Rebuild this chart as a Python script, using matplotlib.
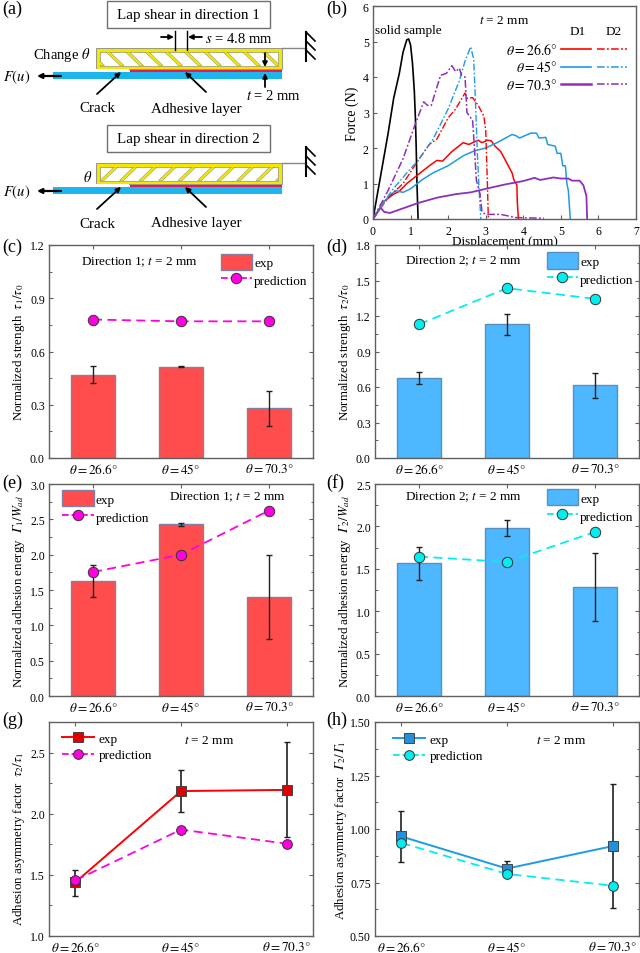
# 接着強度の実験結果と予測の比較図

import matplotlib
matplotlib.use("Agg")
import matplotlib.pyplot as plt
from matplotlib.lines import Line2D
from matplotlib.patches import Patch, Polygon, Rectangle

FIG_W = 640
FIG_H = 954
FILE_NAME = "out.png"

RED = "#FF4D4D"
RED_LINE = "#FF0000"
BLUE = "#4DB8FF"
BLUE_LINE = "#1E9BE8"
PURPLE = "#8E2FBF"
MAGENTA = "#FF00E0"
CYAN = "#00EEF0"
YELLOW = "#F4E800"
SPINE = "#606060"
GAMMA = "\U0001D6E4"

THETA_LABELS = [r"$\theta = 26.6°$", r"$\theta = 45°$", r"$\theta = 70.3°$"]

# (b) 荷重-変位曲線
solid_x = [0, .2, .4, .55, .7, .8, .9, .95, 1.0, 1.05, 1.1, 1.13, 1.15, 1.17, 1.2]
solid_y = [0, 1.2, 2.4, 3.4, 4.1, 4.7, 5.05, 5.07, 4.9, 4.4, 3.6, 2.8, 2.0, 1.0, 0]
red_d1_x = [0, .3, .55, .7, .9, 1.2, 1.5, 1.7, 1.85, 2.1, 2.4, 2.55, 2.8, 2.9, 3.05, 3.15, 3.25, 3.4, 3.5, 3.6, 3.7, 3.75, 3.83, 3.84, 3.87]
red_d1_y = [0, .5, .7, .78, 1.0, 1.25, 1.5, 1.65, 1.63, 1.9, 2.15, 2.1, 2.22, 2.15, 2.22, 2.2, 2.05, 1.9, 1.7, 1.5, 1.3, 1.1, .95, .5, 0]
blue_d1_x = [0, .3, .6, .8, 1.0, 1.3, 1.6, 2.0, 2.4, 2.7, 3.0, 3.3, 3.7, 3.8, 3.9, 4.2, 4.35, 4.42, 4.6, 4.65, 4.85, 4.9, 5.0, 5.05, 5.12, 5.16, 5.2, 5.25]
blue_d1_y = [0, .5, .8, .75, .85, 1.1, 1.3, 1.5, 1.78, 1.92, 2.0, 2.15, 2.38, 2.35, 2.28, 2.42, 2.42, 2.28, 2.3, 2.1, 2.05, 1.85, 1.85, 1.5, 1.5, 1.0, .8, 0]
purple_d1_x = [0, .2, .3, .45, .8, 1.2, 1.7, 2.2, 2.6, 3, 3.5, 4, 4.3, 4.45, 4.8, 5, 5.2, 5.3, 5.5, 5.6, 5.68, 5.7]
purple_d1_y = [0, .32, .2, .17, .3, .45, .6, .7, .75, .85, .97, 1.07, 1.16, 1.1, 1.17, 1.14, 1.14, 1.08, 1.08, .95, .65, 0]
red_d2_x = [0, .4, .8, 1.2, 1.5, 1.7, 2, 2.2, 2.45, 2.5, 2.65, 2.8, 2.95, 3.0, 3.03, 3.05, 3.07]
red_d2_y = [0, .6, 1.0, 1.65, 2.1, 2.25, 2.85, 3.1, 3.55, 3.4, 3.42, 3.2, 2.9, 2.5, 1.5, .8, 0]
blue_d2_x = [0, .5, .9, 1.2, 1.6, 2, 2.3, 2.45, 2.6, 2.68, 2.72, 2.78, 2.82, 2.87]
blue_d2_y = [0, .8, 1.3, 1.65, 2.25, 3.1, 3.9, 4.45, 4.85, 4.5, 3.5, 1.8, .9, 0]
purple_d2_x = [0, .4, .8, 1.1, 1.35, 1.45, 1.55, 1.8, 1.95, 2.1, 2.2, 2.3, 2.35, 2.45, 2.47, 2.5, 2.6, 2.65, 2.7, 2.75, 2.85, 2.9, 3.0, 3.4, 3.8, 4.55]
purple_d2_y = [0, .8, 1.7, 2.6, 3.3, 3.2, 3.2, 4.05, 4.1, 4.32, 4.15, 4.25, 4.05, 4.0, 3.6, 3.0, 2.85, 2.8, 2.0, 1.1, .7, .2, .13, .13, .04, .02]

# (c) 方向1の強度
c_exp = [0.47, 0.515, 0.28]
c_low = [0.42, 0.51, 0.18]
c_high = [0.52, 0.52, 0.38]
c_pred = [0.78, 0.77, 0.77]
# (d) 方向2の強度
d_exp = [0.675, 1.13, 0.615]
d_low = [0.625, 1.04, 0.505]
d_high = [0.725, 1.22, 0.72]
d_pred = [1.13, 1.435, 1.345]
# (e) 方向1の接着エネルギー
e_exp = [1.625, 2.43, 1.40]
e_low = [1.40, 2.41, 0.80]
e_high = [1.85, 2.45, 2.0]
e_pred = [1.755, 2.0, 2.625]
# (f) 方向2の接着エネルギー
f_exp = [1.565, 1.98, 1.285]
f_low = [1.37, 1.89, 0.885]
f_high = [1.76, 2.07, 1.69]
f_pred = [1.645, 1.58, 1.935]
# (g) 強度の非対称係数
g_exp = [1.44, 2.185, 2.195]
g_low = [1.33, 2.01, 1.81]
g_high = [1.54, 2.36, 2.59]
g_pred = [1.455, 1.87, 1.755]
# (h) エネルギーの非対称係数
h_exp = [0.965, 0.815, 0.92]
h_low = [0.845, 0.78, 0.63]
h_high = [1.085, 0.85, 1.21]
h_pred = [0.935, 0.79, 0.735]


def make_axes(fig, left, top, right, bottom):
    """
    ピクセル座標で軸を作成する
    """
    return fig.add_axes([left / FIG_W, 1 - bottom / FIG_H, (right - left) / FIG_W, (bottom - top) / FIG_H])


def style_axes(axis, ylim, yticks, yminor):
    """
    枠線と目盛りの共通設定
    """
    axis.set_ylim(ylim)
    axis.set_yticks(yticks)
    axis.set_yticks(yminor, minor=True)
    axis.tick_params(which="major", length=3, width=0.8, color=SPINE, labelsize=8.5, direction="in")
    axis.tick_params(axis="y", which="major", pad=3, left=True, right=True)
    axis.tick_params(axis="y", which="minor", length=1.8, width=0.7, color=SPINE, direction="in", left=True, right=True)
    for spine in axis.spines.values():
        spine.set_color(SPINE)
        spine.set_linewidth(1.0)


def category_ticks(axis):
    """
    角度のカテゴリ軸
    """
    axis.set_xticks(range(3))
    axis.set_xticklabels(THETA_LABELS, fontsize=9.5)
    axis.tick_params(axis="x", top=True, bottom=False, pad=3)


def set_ylabel(axis, text, x=-0.085, y=0.5):
    """
    y軸ラベルを揃えて配置する
    """
    axis.set_ylabel(text, fontsize=9.3)
    axis.yaxis.set_label_coords(x, y)


def bar_panel(axis, exp, low, high, pred, color, edge, line_color, ylim, yticks, yminor, ylabel, note, note_xy, leg_xy):
    """
    棒グラフ+予測線のパネル
    """
    axis.bar(range(3), exp, width=0.5, color=color, edgecolor=edge, linewidth=1.0, zorder=2)
    err = [[e - l for e, l in zip(exp, low)], [h - e for e, h in zip(exp, high)]]
    axis.errorbar(range(3), exp, yerr=err, fmt="none", ecolor="#202020", elinewidth=1.0, capsize=2.2, capthick=1.0, zorder=3)
    axis.plot(range(3), pred, "--", color=line_color, lw=1.3, dashes=(5, 3), marker="o", ms=7.5, mfc=line_color, mec="#333333", mew=0.7, zorder=4)
    axis.set_xlim(-0.5, 2.5)
    style_axes(axis, ylim, yticks, yminor)
    category_ticks(axis)
    set_ylabel(axis, ylabel)
    axis.text(note_xy[0], note_xy[1], note, transform=axis.transAxes, fontsize=9.5, ha="left", va="center")
    handles = [Patch(facecolor=color, edgecolor=edge),
               Line2D([], [], ls="--", color=line_color, lw=1.3, marker="o", ms=7.5, mfc=line_color, mec="#333333", mew=0.7)]
    axis.legend(handles, ["exp", "prediction"], loc="upper left", bbox_to_anchor=leg_xy, frameon=False, fontsize=9.5,
                handlelength=2.4, handleheight=1.5, handletextpad=0.15, labelspacing=0.15, borderpad=0, borderaxespad=0)


def line_panel(axis, exp, low, high, pred, color, marker_face, line_color, ylim, yticks, yminor, ylabel, leg_xy, note_xy, label_x, label_y):
    """
    折れ線のパネル
    """
    err = [[e - l for e, l in zip(exp, low)], [h - e for e, h in zip(exp, high)]]
    axis.errorbar(range(3), exp, yerr=err, fmt="none", ecolor="#202020", elinewidth=1.2, capsize=2.2, capthick=1.0, zorder=2)
    axis.plot(range(3), exp, "-", color=color, lw=1.4, marker="s", ms=6.5, mfc=marker_face, mec="#444444", mew=0.7, zorder=3)
    axis.plot(range(3), pred, "--", color=line_color, lw=1.3, dashes=(5, 3), marker="o", ms=7, mfc=line_color, mec="#333333", mew=0.7, zorder=4)
    axis.set_xlim(-0.25, 2.25)
    style_axes(axis, ylim, yticks, yminor)
    category_ticks(axis)
    set_ylabel(axis, ylabel, label_x, label_y)
    axis.text(note_xy[0], note_xy[1], r"$t$ = 2 mm", transform=axis.transAxes, fontsize=9.5, ha="left", va="center")
    handles = [Line2D([], [], ls="-", color=color, lw=1.4, marker="s", ms=6.5, mfc=marker_face, mec="#444444", mew=0.7),
               Line2D([], [], ls="--", color=line_color, lw=1.3, marker="o", ms=7, mfc=line_color, mec="#333333", mew=0.7)]
    axis.legend(handles, ["exp", "prediction"], loc="upper left", bbox_to_anchor=leg_xy, frameon=False, fontsize=9.5,
                handlelength=2.4, handletextpad=0.35, labelspacing=0.3, borderpad=0, borderaxespad=0)


def arrow(axis, x0, y0, x1, y1, width=1.3):
    """
    模式図の矢印
    """
    axis.annotate("", xy=(x1, y1), xytext=(x0, y0),
                  arrowprops=dict(arrowstyle="-|>", color="black", lw=width, mutation_scale=7, shrinkA=0, shrinkB=0))


def draw_specimen(axis, top, frame_y, flip, box_text):
    """
    ラップせん断試験片の模式図を描く
    top はタイトル枠の上端,frame_y は骨組みの上端,flip は斜めセルの向き
    """
    axis.add_patch(Rectangle((107, top), 163, 27, fc="white", ec="#707070", lw=1))
    axis.text(188, top + 14, box_text, ha="center", va="center", fontsize=10.8)
    axis.add_patch(Rectangle((96, frame_y), 186, 21, fc=YELLOW, ec="#888888", lw=0.6))
    inner = Rectangle((100, frame_y + 4), 178, 13.5, fc="white", ec="#777777", lw=0.4)
    axis.add_patch(inner)
    # 斜めの壁
    for i in range(-1, 10):
        if flip:
            x = 100 + i * 19.5
            pts = [(x, frame_y + 17.5), (x + 4, frame_y + 17.5), (x + 18, frame_y + 4), (x + 14, frame_y + 4)]
        else:
            x = 106 + i * 19.5
            pts = [(x, frame_y + 4), (x + 4, frame_y + 4), (x + 18, frame_y + 17.5), (x + 14, frame_y + 17.5)]
        wall = Polygon(pts, closed=True, fc=YELLOW, ec="#777777", lw=0.3)
        axis.add_patch(wall)
        wall.set_clip_path(inner)
    axis.add_patch(Rectangle((53, frame_y + 24), 229, 7, fc="#1CB5EC", ec="none"))
    axis.add_patch(Rectangle((130, frame_y + 21.5), 152, 2.8, fc="#F0145A", ec="none"))
    axis.add_patch(Rectangle((95, frame_y + 20.5), 34, 3.5, fc="white", ec="none"))
    # 固定端
    axis.plot([282, 306], [frame_y, frame_y], color="#888888", lw=1)
    axis.plot([306, 306], [frame_y - 16, frame_y + 13], color="black", lw=1.5)
    for offset in (-16, -7, 2):
        axis.plot([306, 315], [frame_y + offset, frame_y + offset + 9], color="black", lw=1.2)
    # 荷重
    arrow(axis, 61, frame_y + 28, 37, frame_y + 28, 1.6)
    axis.text(3, frame_y + 28, r"$F(u)$", fontsize=10.5, va="center")
    axis.text(97, frame_y + 60, "Crack", ha="center", va="center", fontsize=10.8)
    axis.text(196, frame_y + 60, "Adhesive layer", ha="center", va="center", fontsize=10.8)
    arrow(axis, 97, frame_y + 46, 121, frame_y + 24)
    arrow(axis, 206, frame_y + 44, 185, frame_y + 24)


def draw_schematic(fig):
    """
    (a) の模式図
    """
    axis = fig.add_axes([0, 0, 1, 1], zorder=5)
    axis.set_xlim(0, FIG_W)
    axis.set_ylim(FIG_H, 0)
    axis.axis("off")
    axis.patch.set_alpha(0)
    draw_specimen(axis, 2, 49, False, "Lap shear in direction 1")
    draw_specimen(axis, 126, 164, True, "Lap shear in direction 2")
    axis.text(33, 55, r"Change $\theta$", fontsize=10.5, va="center")
    axis.text(83, 178, r"$\theta$", fontsize=10.5, va="center")
    axis.plot([175, 175], [32, 51], color="black", lw=1)
    axis.plot([187, 187], [32, 51], color="black", lw=1)
    arrow(axis, 161, 38, 174, 38)
    arrow(axis, 202, 38, 188, 38)
    axis.text(205, 39, r"$s$ = 4.8 mm", fontsize=10.5, va="center")
    arrow(axis, 265, 54, 265, 68)
    arrow(axis, 265, 88, 265, 74)
    axis.text(246, 96, r"$t$ = 2 mm", fontsize=10.5, va="center")


def draw_curves(fig):
    """
    (b) の荷重-変位曲線
    """
    axis = make_axes(fig, 373, 7, 636, 220)
    axis.plot(solid_x, solid_y, color="black", lw=1.2)
    dash_dot = (0, (5, 1.5, 1.2, 1.5))
    axis.plot(red_d1_x, red_d1_y, color=RED_LINE, lw=1.1)
    axis.plot(blue_d1_x, blue_d1_y, color=BLUE_LINE, lw=1.1)
    axis.plot(purple_d1_x, purple_d1_y, color=PURPLE, lw=1.3)
    axis.plot(red_d2_x, red_d2_y, color=RED_LINE, lw=1.0, ls=dash_dot)
    axis.plot(blue_d2_x, blue_d2_y, color=BLUE_LINE, lw=1.0, ls=dash_dot)
    axis.plot(purple_d2_x, purple_d2_y, color=PURPLE, lw=1.1, ls=dash_dot)
    axis.set_xlim(0, 7)
    axis.set_xticks(range(8))
    style_axes(axis, (0, 6), range(7), [])
    axis.tick_params(axis="x", top=False, pad=4)
    axis.tick_params(axis="y", right=False)
    axis.set_xlabel("Displacement (mm)", fontsize=9.5, labelpad=-1)
    axis.set_ylabel("Force (N)", fontsize=10, labelpad=3)
    axis.text(0.05, 5.31, "solid sample", fontsize=9.5, va="center")
    axis.text(3.5, 5.6, r"$t$ = 2 mm", fontsize=9.5, ha="center", va="center")
    axis.text(5.45, 5.3, "D1", fontsize=9.5, ha="center", va="center")
    axis.text(6.4, 5.3, "D2", fontsize=9.5, ha="center", va="center")
    for text, color, y, lw in zip(THETA_LABELS, [RED_LINE, BLUE_LINE, PURPLE], [4.78, 4.29, 3.79], [1.2, 1.2, 1.8]):
        axis.text(4.9, y, text.replace(" = ", "="), fontsize=10, ha="right", va="center")
        axis.plot([5.0, 5.8], [y, y], color=color, lw=lw)
        axis.plot([5.95, 6.75], [y, y], color=color, lw=1.1, ls=dash_dot)


def main():
    """
    メイン処理
    """
    plt.rcParams["font.family"] = ["Liberation Serif", "DejaVu Serif"]
    plt.rcParams["mathtext.fontset"] = "stix"

    fig = plt.figure(figsize=(FIG_W / 100, FIG_H / 100), dpi=100)

    draw_schematic(fig)
    draw_curves(fig)

    axis = make_axes(fig, 49, 246, 313, 459)
    bar_panel(axis, c_exp, c_low, c_high, c_pred, RED, "#8080A0", MAGENTA, (0, 1.2), [0, .3, .6, .9, 1.2], [.15, .45, .75, 1.05],
              r"Normalized strength  $\tau_1/\tau_0$", r"Direction 1; $t$ = 2 mm", (0.12, 0.925), (0.65, 0.96))

    axis = make_axes(fig, 375, 246, 639, 459)
    bar_panel(axis, d_exp, d_low, d_high, d_pred, BLUE, "#5B8FC0", CYAN, (0, 1.8), [0, .3, .6, .9, 1.2, 1.5, 1.8], [.15, .45, .75, 1.05, 1.35, 1.65],
              r"Normalized strength  $\tau_2/\tau_0$", r"Direction 2; $t$ = 2 mm", (0.115, 0.93), (0.65, 0.965))

    axis = make_axes(fig, 49, 485, 313, 697)
    bar_panel(axis, e_exp, e_low, e_high, e_pred, RED, "#8080A0", MAGENTA, (0, 3), [0, .5, 1, 1.5, 2, 2.5, 3], [.25, .75, 1.25, 1.75, 2.25, 2.75],
              "Normalized adhesion energy  $" + GAMMA + r"_1/W_{ad}$", r"Direction 1; $t$ = 2 mm", (0.455, 0.94), (0.05, 0.97))

    axis = make_axes(fig, 375, 485, 639, 697)
    bar_panel(axis, f_exp, f_low, f_high, f_pred, BLUE, "#5B8FC0", CYAN, (0, 2.5), [0, .5, 1, 1.5, 2, 2.5], [.25, .75, 1.25, 1.75, 2.25],
              "Normalized adhesion energy  $" + GAMMA + r"_2/W_{ad}$", r"Direction 2; $t$ = 2 mm", (0.115, 0.94), (0.65, 0.975))

    axis = make_axes(fig, 49, 723, 313, 937)
    line_panel(axis, g_exp, g_low, g_high, g_pred, RED_LINE, "#E00000", MAGENTA, (1, 2.75), [1, 1.5, 2, 2.5], [1.25, 1.75, 2.25, 2.75],
               r"Adhesion asymmetry factor  $\tau_2/\tau_1$", (0.05, 0.95), (0.51, 0.915), -0.085, 0.46)

    axis = make_axes(fig, 375, 723, 639, 937)
    line_panel(axis, h_exp, h_low, h_high, h_pred, BLUE_LINE, "#2090E0", CYAN, (0.5, 1.5), [.5, .75, 1, 1.25, 1.5], [.625, .875, 1.125, 1.375],
               "Adhesion asymmetry factor  $" + GAMMA + "_2/" + GAMMA + "_1$", (0.07, 0.945), (0.61, 0.915), -0.1, 0.5)

    # パネルラベル
    for text, x, y in [("(a)", 2, 9), ("(b)", 326, 9), ("(c)", 2, 247), ("(d)", 326, 247), ("(e)", 2, 483), ("(f)", 326, 483), ("(g)", 2, 720), ("(h)", 326, 720)]:
        fig.text(x / FIG_W, 1 - y / FIG_H, text, fontsize=13, va="center", zorder=10)

    plt.savefig(FILE_NAME, dpi=100)


if __name__ == "__main__":
    main()
